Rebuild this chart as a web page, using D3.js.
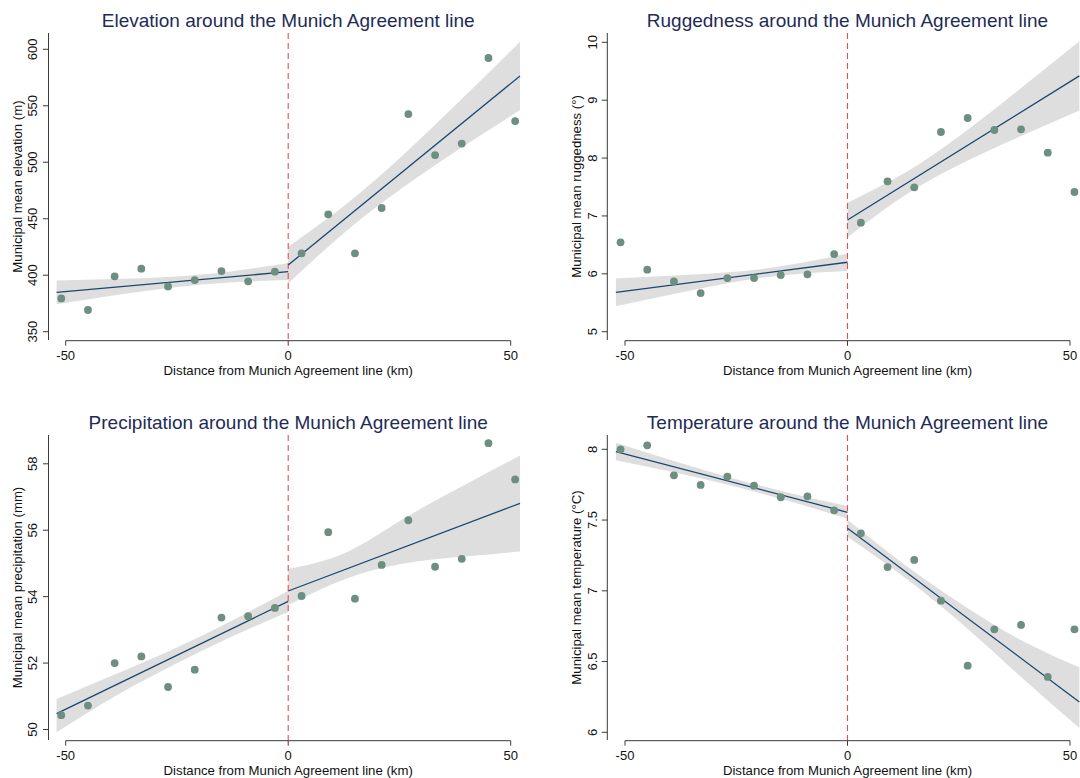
<!DOCTYPE html>
<html>
<head>
<meta charset="utf-8">
<script src="https://cdn.jsdelivr.net/npm/d3@7"></script>
<style>
  html, body { margin: 0; padding: 0; background: #fff; }
  svg { display: block; font-family: "Liberation Sans", Arial, Helvetica, sans-serif; }
</style>
</head>
<body>
<svg id="chart" width="1080" height="778"></svg>
<script>
// ---- Data ----
const binX = [-51, -45, -39, -33, -27, -21, -15, -9, -3, 3, 9, 15, 21, 27, 33, 39, 45, 51];

const elevation     = [379.5, 369.2, 399.0, 405.8, 390.1, 395.7, 403.7, 394.6, 403.1, 419.4, 453.9, 419.4, 459.5, 542.7, 506.4, 516.5, 592.3, 536.5];
const ruggedness    = [6.544, 6.071, 5.870, 5.668, 5.927, 5.927, 5.979, 5.991, 6.342, 6.884, 7.598, 7.494, 8.450, 8.692, 8.485, 8.497, 8.093, 7.414];
const precipitation = [50.43, 50.72, 52.00, 52.20, 51.28, 51.80, 53.37, 53.41, 53.66, 54.02, 55.94, 53.94, 54.955, 56.30, 54.90, 55.14, 58.62, 57.53];
const temperature   = [8.000, 8.028, 7.816, 7.748, 7.807, 7.743, 7.661, 7.668, 7.569, 7.406, 7.168, 7.218, 6.930, 6.471, 6.728, 6.759, 6.391, 6.728];

// fitted lines: value at left end and at cutoff (left side), at cutoff and right end (right side)
const fitXLeft  = [-52.05, 0];
const fitXRight = [0, 52.1];
const elevFitL = [384.8, 403.1],  elevFitR = [409.0, 576.4];
const ruggFitL = [5.68, 6.20],    ruggFitR = [6.93, 9.42];
const precFitL = [50.48, 53.86],  precFitR = [54.17, 56.81];
const tempFitL = [7.984, 7.555],  tempFitR = [7.442, 6.214];

// confidence bands (lower / upper) sampled at these distances
const bandXLeft  = [-52.05, -39, -26, -13, 0];
const bandXRight = [0, 13, 26, 39, 52.1];
const elevBandLoL = [374.3, 382.2, 389.2, 393.6, 395.7], elevBandHiL = [395.3, 396.6, 398.7, 403.4, 410.5];
const elevBandLoR = [392.7, 439.0, 478.3, 513.1, 546.2], elevBandHiR = [425.3, 462.8, 507.1, 556.1, 606.6];
const ruggBandLoL = [5.44, 5.65, 5.85, 5.985, 6.05],     ruggBandHiL = [5.92, 5.97, 6.03, 6.155, 6.35];
const ruggBandLoR = [6.63, 7.36, 7.92, 8.38, 8.82],      ruggBandHiR = [7.23, 7.75, 8.43, 9.21, 10.02];
const precBandLoL = [49.92, 50.995, 51.93, 52.775, 53.54], precBandHiL = [50.92, 51.655, 52.41, 53.255, 54.18];
const precBandLoR = [53.75, 54.54, 55.00, 55.20, 55.36],   precBandHiR = [54.83, 55.33, 56.35, 57.32, 58.25];
const tempBandLoL = [7.922, 7.837, 7.742, 7.632, 7.510], tempBandHiL = [8.046, 7.917, 7.798, 7.692, 7.600];
const tempBandLoR = [7.382, 7.090, 6.758, 6.391, 6.030], tempBandHiR = [7.502, 7.180, 6.898, 6.651, 6.460];

const xTicks = [-50, 0, 50];
const elevTicks = [350, 400, 450, 500, 550, 600];
const ruggTicks = [5, 6, 7, 8, 9, 10];
const precTicks = [50, 52, 54, 56, 58];
const tempTicks = [6, 6.5, 7, 7.5, 8];

const titles = [
  "Elevation around the Munich Agreement line",
  "Ruggedness around the Munich Agreement line",
  "Precipitation around the Munich Agreement line",
  "Temperature around the Munich Agreement line"
];
const yTitles = [
  "Municipal mean elevation (m)",
  "Municipal mean ruggedness (°)",
  "Municipal mean precipitation (mm)",
  "Municipal mean temperature (°C)"
];
const xTitle = "Distance from Munich Agreement line (km)";

// ---- Layout ----
const top1 = { top: 33, bottom: 340, axisY: 340.7, titleY: 20.7, tickLabY: 355, xTitleY: 370 };
const bot1 = { top: 435, bottom: 740, axisY: 740.7, titleY: 422.3, tickLabY: 755.7, xTitleY: 770 };
const left1 = { x0: 288.2, spineX: 48.5, yLabX: 32.5, yTitleX: 17 };
const right1 = { x0: 847.5, spineX: 607.3, yLabX: 592.3, yTitleX: 576.5 };

const panels = [
  { v: elevation, fitL: elevFitL, fitR: elevFitR, loL: elevBandLoL, hiL: elevBandHiL, loR: elevBandLoR, hiR: elevBandHiR,
    ticks: elevTicks, yd: [350, 600], yr: [331.7, 49.3], row: top1, col: left1 },
  { v: ruggedness, fitL: ruggFitL, fitR: ruggFitR, loL: ruggBandLoL, hiL: ruggBandHiL, loR: ruggBandLoR, hiR: ruggBandHiR,
    ticks: ruggTicks, yd: [5, 10], yr: [331.7, 42.3], row: top1, col: right1 },
  { v: precipitation, fitL: precFitL, fitR: precFitR, loL: precBandLoL, hiL: precBandHiL, loR: precBandLoR, hiR: precBandHiR,
    ticks: precTicks, yd: [50, 58], yr: [729.5, 463.8], row: bot1, col: left1 },
  { v: temperature, fitL: tempFitL, fitR: tempFitR, loL: tempBandLoL, hiL: tempBandHiL, loR: tempBandLoR, hiR: tempBandHiR,
    ticks: tempTicks, yd: [6, 8], yr: [732.3, 449.3], row: bot1, col: right1 }
];

const svg = d3.select("#chart");
const defs = svg.append("defs");

const C = {
  title: "#1e2b57",
  point: "#6c8f80",
  line: "#1a476f",
  band: "#dedede",
  axis: "#3a3a3a",
  text: "#111",
  cut: "#f04a4a"
};

panels.forEach((p, i) => {
  const g = svg.append("g");
  const x = d3.scaleLinear().domain([-50, 50]).range([p.col.x0 - 222.5, p.col.x0 + 222.5]);
  const y = d3.scaleLinear().domain(p.yd).range(p.yr);

  const clipId = "clip" + i;
  defs.append("clipPath").attr("id", clipId)
    .append("rect")
    .attr("x", p.col.spineX + 1).attr("y", p.row.top)
    .attr("width", Math.min(1080, x(53)) - p.col.spineX - 1)
    .attr("height", p.row.bottom - p.row.top);

  const plot = g.append("g").attr("clip-path", `url(#${clipId})`);

  const area = d3.area().x(d => x(d[0])).y0(d => y(d[1])).y1(d => y(d[2])).curve(d3.curveNatural);
  const bandL = bandXLeft.map((bx, k) => [bx, p.loL[k], p.hiL[k]]);
  const bandR = bandXRight.map((bx, k) => [bx, p.loR[k], p.hiR[k]]);
  plot.append("path").attr("d", area(bandL)).attr("fill", C.band);
  plot.append("path").attr("d", area(bandR)).attr("fill", C.band);

  // cutoff dashed line
  plot.append("line")
    .attr("x1", x(0)).attr("x2", x(0))
    .attr("y1", p.row.top).attr("y2", p.row.bottom)
    .attr("stroke", C.cut).attr("stroke-width", 1.1)
    .attr("stroke-dasharray", "6,4");

  // fit lines
  const line = d3.line().x(d => x(d[0])).y(d => y(d[1]));
  plot.append("path").attr("d", line(fitXLeft.map((fx, k) => [fx, p.fitL[k]])))
    .attr("fill", "none").attr("stroke", C.line).attr("stroke-width", 1.3);
  plot.append("path").attr("d", line(fitXRight.map((fx, k) => [fx, p.fitR[k]])))
    .attr("fill", "none").attr("stroke", C.line).attr("stroke-width", 1.3);

  // points
  plot.selectAll("circle").data(binX.map((bx, k) => [bx, p.v[k]])).enter()
    .append("circle")
    .attr("cx", d => x(d[0])).attr("cy", d => y(d[1]))
    .attr("r", 3.9).attr("fill", C.point);

  // y axis spine
  g.append("line").attr("x1", p.col.spineX).attr("x2", p.col.spineX)
    .attr("y1", p.row.top).attr("y2", p.row.bottom)
    .attr("stroke", C.axis).attr("stroke-width", 1);
  p.ticks.forEach(t => {
    g.append("line").attr("x1", p.col.spineX - 5.5).attr("x2", p.col.spineX)
      .attr("y1", y(t)).attr("y2", y(t)).attr("stroke", C.axis).attr("stroke-width", 1);
    g.append("text")
      .attr("transform", `translate(${p.col.yLabX},${y(t)}) rotate(-90)`)
      .attr("text-anchor", "middle").attr("dy", "0.35em")
      .attr("font-size", 13).attr("fill", C.text)
      .text(t);
  });

  // x axis
  g.append("line").attr("x1", x(-50)).attr("x2", x(50))
    .attr("y1", p.row.axisY).attr("y2", p.row.axisY)
    .attr("stroke", C.axis).attr("stroke-width", 1);
  xTicks.forEach(t => {
    g.append("line").attr("x1", x(t)).attr("x2", x(t))
      .attr("y1", p.row.axisY).attr("y2", p.row.axisY + 5)
      .attr("stroke", C.axis).attr("stroke-width", 1);
    g.append("text").attr("x", x(t)).attr("y", p.row.tickLabY)
      .attr("text-anchor", "middle").attr("dy", "0.35em")
      .attr("font-size", 13).attr("fill", C.text)
      .text(t);
  });

  // titles
  g.append("text").attr("x", x(0)).attr("y", p.row.titleY)
    .attr("text-anchor", "middle").attr("dy", "0.35em")
    .attr("font-size", 19).attr("fill", C.title)
    .text(titles[i]);
  g.append("text").attr("x", x(0)).attr("y", p.row.xTitleY)
    .attr("text-anchor", "middle").attr("dy", "0.35em")
    .attr("font-size", 13.2).attr("fill", C.text)
    .text(xTitle);
  g.append("text")
    .attr("transform", `translate(${p.col.yTitleX},${(p.row.top + p.row.bottom) / 2}) rotate(-90)`)
    .attr("text-anchor", "middle").attr("dy", "0.35em")
    .attr("font-size", 13.2).attr("fill", C.text)
    .text(yTitles[i]);
});
</script>
</body>
</html>
